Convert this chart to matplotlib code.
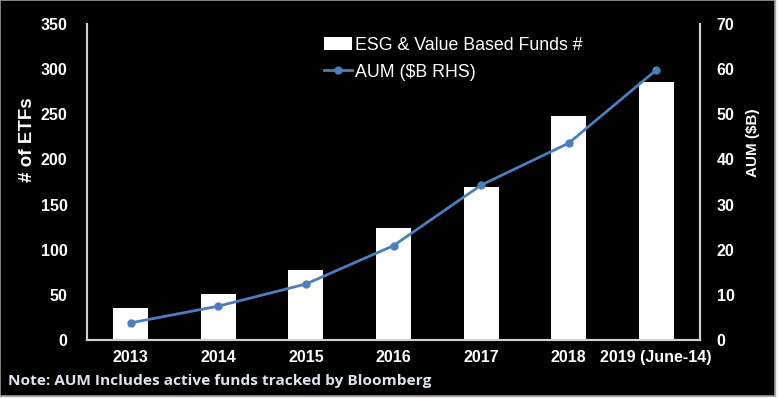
import matplotlib
matplotlib.use("Agg")
import matplotlib.pyplot as plt
from matplotlib.patches import Rectangle
import numpy as np

years = ["2013", "2014", "2015", "2016", "2017", "2018", "2019 (June-14)"]
funds = [35, 51, 77, 124, 169, 248, 286]
aum = [3.8, 7.5, 12.4, 20.9, 34.3, 43.6, 59.8]

BLUE = "#4a7ebf"
GRID = "#d0d0d0"

fig = plt.figure(figsize=(7.78, 3.98), dpi=100, facecolor="#f0f0f0")
# black panel with thin gray frame, kept behind the axes
fig.patches.append(Rectangle((0, 1 - 396 / 398), 775 / 778, 396 / 398, transform=fig.transFigure,
                             facecolor="black", edgecolor="#9a9a9a", lw=1.2, zorder=-10))

ax = fig.add_axes([87 / 778, 1 - 340 / 398, 613 / 778, 316 / 398])
ax.set_facecolor("none")
x = np.arange(len(years))
bars = ax.bar(x, funds, width=0.4, color="white", label="ESG & Value Based Funds #", zorder=2)
ax.set_xlim(-0.5, len(years) - 0.5)
ax.set_ylim(0, 350)
ax.set_yticks(range(0, 351, 50))
ax.set_xticks(x)
ax.set_xticklabels(years)

ax2 = ax.twinx()
ln, = ax2.plot(x, aum, color=BLUE, lw=2, marker="o", ms=5, label="AUM ($B RHS)", zorder=3)
ax2.set_ylim(0, 70)
ax2.set_yticks(range(0, 71, 10))

for a in (ax, ax2):
    a.tick_params(length=0, colors="white", labelsize=11.5)
    for lab in a.get_xticklabels() + a.get_yticklabels():
        lab.set_fontweight("bold")
        lab.set_fontfamily("Liberation Sans")
    a.spines["top"].set_visible(False)
    for s in ("left", "right", "bottom"):
        a.spines[s].set_color(GRID)
        a.spines[s].set_linewidth(1.5)
ax.tick_params(axis="y", pad=14)
ax.tick_params(axis="x", pad=7)
ax2.tick_params(axis="y", pad=12)

# axis titles sit above the axis centre in the original
fig.text(28 / 778, 1 - 140 / 398, "# of ETFs", color="white", fontsize=13.5, fontweight="bold",
         fontfamily="Liberation Sans", rotation=90, ha="center", va="center")
fig.text(753 / 778, 1 - 143 / 398, "AUM ($B)", color="white", fontsize=11, fontweight="bold",
         fontfamily="Liberation Sans", rotation=90, ha="center", va="center")

leg = ax.legend([bars, ln], ["ESG & Value Based Funds #", "AUM ($B RHS)"],
                loc="upper left", bbox_to_anchor=(0.36, 1.01), frameon=False,
                prop={"family": "Liberation Sans", "size": 12.8},
                handlelength=1.6, handletextpad=0.15, labelspacing=0.55)
for t in leg.get_texts():
    t.set_color("white")

fig.text(8 / 778, 1 - 381 / 398, "Note: AUM Includes active funds tracked by Bloomberg",
         color="#dce6f2", fontsize=11.1, fontweight="bold", fontfamily="Open Sans",
         va="center", ha="left")

fig.savefig("out.png", dpi=100, facecolor=fig.get_facecolor())
